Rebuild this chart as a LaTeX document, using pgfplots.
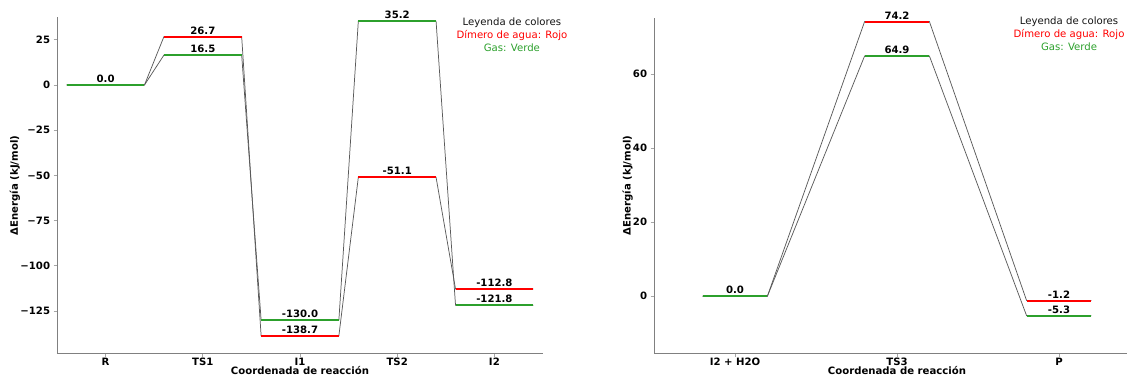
\documentclass[border=0pt]{standalone}
\usepackage{pgfplots}
\pgfplotsset{compat=1.18}
\usepackage{fontspec}
\setmainfont{DejaVu Sans}
\definecolor{lvlred}{RGB}{255,0,0}
\definecolor{lvlgreen}{RGB}{44,160,44}
\definecolor{spine}{RGB}{128,128,128}
\definecolor{legtxt}{RGB}{20,20,20}
\begin{document}
\fontsize{7.5}{9}\selectfont
\begin{tikzpicture}
\pgfplotsset{
  diag/.style={
    scale only axis, width=364.5pt, height=252pt,
    anchor=south west,
    axis lines*=left,
    axis line style={spine, line width=0.6pt},
    tick align=outside, major tick length=2.5pt,
    tick style={spine!70, line width=0.5pt},
    ticklabel style={font=\fontsize{7.6}{9}\selectfont\bfseries},
    xticklabel style={yshift=1.5pt},
    label style={font=\fontsize{7.6}{9}\selectfont\bfseries},
    xlabel={Coordenada de reacción},
    ylabel={ΔEnergía (kJ/mol)},
    xlabel style={yshift=5pt},
    ylabel style={yshift=-5pt},
    clip=false,
    unbounded coords=jump,
  },
  conn/.style={black!65, line width=0.55pt},
  lvl/.style={line width=1.5pt},
  vals/.style={only marks, mark=none, nodes near coords, point meta=explicit symbolic,
    nodes near coords style={font=\fontsize{7.6}{9}\selectfont\bfseries, anchor=south, inner sep=1.5pt, text=black}},
}
% ---------------- left panel ----------------
\begin{axis}[diag, at={(42.75pt,19.125pt)},
  xmin=-0.5, xmax=4.5, ymin=-148.5, ymax=37.3,
  xtick={0,1,2,3,4}, xticklabels={R,TS1,I1,TS2,I2},
  ytick={25,0,-25,-50,-75,-100,-125},
  yticklabels={25,0,−25,−50,−75,−100,−125},
]
% connectors
\addplot[conn] coordinates {(-0.4,0) (0.4,0) (0.6,26.7) (1.4,26.7) (1.6,-138.7) (2.4,-138.7) (2.6,-51.1) (3.4,-51.1) (3.6,-112.8) (4.4,-112.8)};
\addplot[conn] coordinates {(-0.4,0) (0.4,0) (0.6,16.5) (1.4,16.5) (1.6,-130.0) (2.4,-130.0) (2.6,35.2) (3.4,35.2) (3.6,-121.8) (4.4,-121.8)};
% levels
\addplot[lvl, lvlred] coordinates {(-0.4,0) (0.4,0) (0.5,nan) (0.6,26.7) (1.4,26.7) (1.5,nan) (1.6,-138.7) (2.4,-138.7) (2.5,nan) (2.6,-51.1) (3.4,-51.1) (3.5,nan) (3.6,-112.8) (4.4,-112.8)};
\addplot[lvl, lvlgreen] coordinates {(-0.4,0) (0.4,0) (0.5,nan) (0.6,16.5) (1.4,16.5) (1.5,nan) (1.6,-130.0) (2.4,-130.0) (2.5,nan) (2.6,35.2) (3.4,35.2) (3.5,nan) (3.6,-121.8) (4.4,-121.8)};
% value labels
\addplot[vals] coordinates {(0,0) [0.0] (1,26.7) [26.7] (1,16.5) [16.5] (2,-130.0) [-130.0] (2,-138.7) [-138.7] (3,35.2) [35.2] (3,-51.1) [-51.1] (4,-112.8) [-112.8] (4,-121.8) [-121.8]};
\node[anchor=north, align=center, inner sep=0pt, font=\fontsize{7.6}{9.75}\selectfont] at (rel axis cs:0.936,0.9985)
  {\textcolor{legtxt}{Leyenda de colores}\\\textcolor{lvlred}{Dímero de agua: Rojo}\\\textcolor{lvlgreen}{Gas: Verde}};
\end{axis}
% ---------------- right panel ----------------
\begin{axis}[diag, at={(490.5pt,19.125pt)},
  xmin=-0.5, xmax=2.5, ymin=-15.5, ymax=75.3,
  xtick={0,1,2}, xticklabels={I2 + H2O,TS3,P},
  ytick={0,20,40,60},
  yticklabels={0,20,40,60},
]
\addplot[conn] coordinates {(-0.2,0) (0.2,0) (0.8,74.2) (1.2,74.2) (1.8,-1.2) (2.2,-1.2)};
\addplot[conn] coordinates {(-0.2,0) (0.2,0) (0.8,64.9) (1.2,64.9) (1.8,-5.3) (2.2,-5.3)};
\addplot[lvl, lvlred] coordinates {(-0.2,0) (0.2,0) (0.5,nan) (0.8,74.2) (1.2,74.2) (1.5,nan) (1.8,-1.2) (2.2,-1.2)};
\addplot[lvl, lvlgreen] coordinates {(-0.2,0) (0.2,0) (0.5,nan) (0.8,64.9) (1.2,64.9) (1.5,nan) (1.8,-5.3) (2.2,-5.3)};
\addplot[vals] coordinates {(0,0) [0.0] (1,74.2) [74.2] (1,64.9) [64.9] (2,-1.2) [-1.2] (2,-5.3) [-5.3]};
\node[anchor=north, align=center, inner sep=0pt, font=\fontsize{7.6}{9.75}\selectfont] at (rel axis cs:0.854,1.0015)
  {\textcolor{legtxt}{Leyenda de colores}\\\textcolor{lvlred}{Dímero de agua: Rojo}\\\textcolor{lvlgreen}{Gas: Verde}};
\end{axis}
\pgfresetboundingbox
\useasboundingbox (0pt,0pt) rectangle (845.25pt,284.25pt);
\end{tikzpicture}
\end{document}
